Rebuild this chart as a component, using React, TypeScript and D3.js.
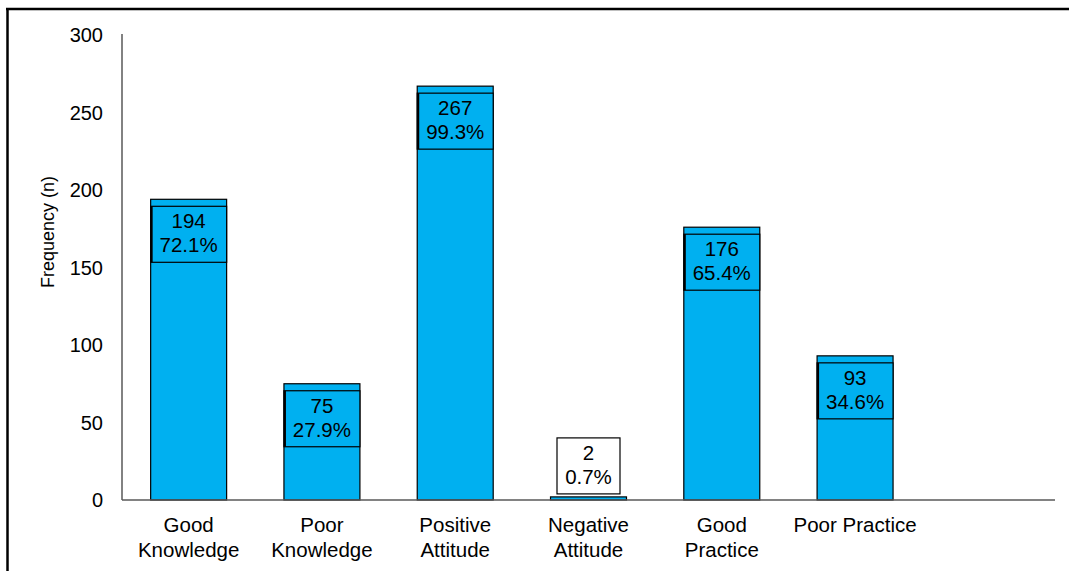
import React from "react";
import * as d3 from "d3";

const categories: string[][] = [
  ["Good", "Knowledge"],
  ["Poor", "Knowledge"],
  ["Positive", "Attitude"],
  ["Negative", "Attitude"],
  ["Good", "Practice"],
  ["Poor Practice"],
];
const counts = [194, 75, 267, 2, 176, 93];
const percents = ["72.1%", "27.9%", "99.3%", "0.7%", "65.4%", "34.6%"];
const yTicks = [0, 50, 100, 150, 200, 250, 300];

const W = 1069;
const H = 571;
const left = 122;
const right = 1055;
const top = 35;
const bottom = 500;
const BLUE = "#00B0F0";
const FONT = "'Liberation Sans', Arial, sans-serif";

export default function App() {
  const slots = d3.range(7).map(String);
  const x = d3.scaleBand<string>().domain(slots).range([left, right]).paddingInner(0.43).paddingOuter(0.215);
  const y = d3.scaleLinear().domain([0, 300]).range([bottom, top]);
  const bw = x.bandwidth();
  return (
    <svg width={W} height={H} style={{ position: "absolute", left: 0, top: 0 }}>
      <rect x={0} y={0} width={W} height={H} fill="#fff" />
      <line x1={6} x2={W} y1={9} y2={9} stroke="#000" strokeWidth={2.5} />
      <line x1={7.5} x2={7.5} y1={8} y2={H} stroke="#000" strokeWidth={2.5} />
      {yTicks.map((t) => (
        <text key={t} x={103} y={y(t)} dy="0.35em" textAnchor="end" fontFamily={FONT} fontSize={20} fill="#000">
          {t}
        </text>
      ))}
      <text
        transform={`translate(54,${232}) rotate(-90)`}
        textAnchor="middle"
        fontFamily={FONT}
        fontSize={18}
        fill="#000"
      >
        Frequency (n)
      </text>
      {counts.map((c, i) => {
        const bx = x(String(i))!;
        const by = y(c);
        return (
          <rect key={"b" + i} x={bx} y={by} width={bw} height={bottom - by} fill={BLUE} stroke="#000" strokeWidth={1.2} />
        );
      })}
      <line x1={left} x2={left} y1={top - 1} y2={bottom} stroke="#595959" strokeWidth={1.5} />
      <line x1={left} x2={right} y1={bottom} y2={bottom} stroke="#595959" strokeWidth={1.5} />
      {counts.map((c, i) => {
        const bx = x(String(i))!;
        const by = y(c);
        const cx = bx + bw / 2;
        const inside = c > 40;
        const boxW = inside ? bw : 63;
        const boxH = 56;
        const boxTop = inside ? by + 7 : by - 3 - boxH;
        return (
          <g key={"l" + i}>
            <rect
              x={cx - boxW / 2}
              y={boxTop}
              width={boxW}
              height={boxH}
              fill={inside ? BLUE : "#fff"}
              stroke="#000"
              strokeWidth={1.2}
            />
            {inside && <line x1={cx - boxW / 2 + 1} x2={cx - boxW / 2 + 1} y1={boxTop} y2={boxTop + boxH} stroke="#000" strokeWidth={2} />}
            <text x={cx} y={boxTop + 22} textAnchor="middle" fontFamily={FONT} fontSize={20.5} fill="#000">
              {c}
            </text>
            <text x={cx} y={boxTop + 46} textAnchor="middle" fontFamily={FONT} fontSize={20.5} fill="#000">
              {percents[i]}
            </text>
          </g>
        );
      })}
      {categories.map((lines, i) => {
        const cx = x(String(i))! + bw / 2;
        return (
          <text key={"c" + i} textAnchor="middle" fontFamily={FONT} fontSize={20.5} fill="#000">
            {lines.map((ln, j) => (
              <tspan key={j} x={cx} y={532 + j * 25}>
                {ln}
              </tspan>
            ))}
          </text>
        );
      })}
    </svg>
  );
}
